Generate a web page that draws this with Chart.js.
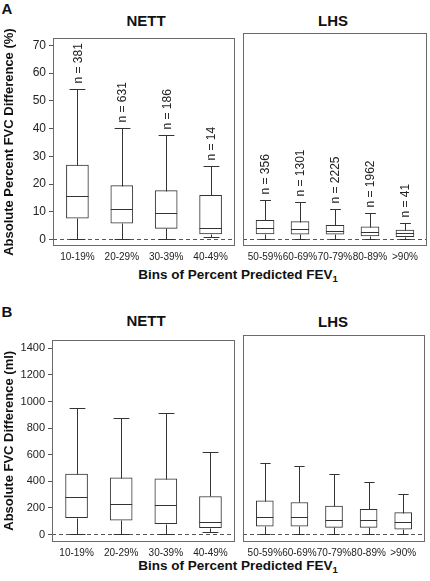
<!DOCTYPE html>
<html>
<head>
<meta charset="utf-8">
<script src="https://cdn.jsdelivr.net/npm/chart.js@4/dist/chart.umd.min.js"></script>
<style>
  html, body { margin:0; padding:0; background:#fff; }
  body { width:430px; height:581px; position:relative; overflow:hidden;
         font-family:"Liberation Sans", Arial, sans-serif; color:#111; }
  canvas { position:absolute; }
  .lbl { position:absolute; transform:translate(-50%,-50%); white-space:nowrap;
         font-weight:bold; line-height:1; }
  .panel { font-size:15px; }
  .ttl { font-size:15px; }
  .xt { font-size:13.5px; }
  .xt sub { font-size:9.5px; vertical-align:-3px; line-height:0; }
</style>
</head>
<body>
<div class="lbl panel" style="left:7px;top:8px;">A</div>
<div class="lbl panel" style="left:7px;top:311px;">B</div>
<div class="lbl ttl" style="left:146px;top:20px;">NETT</div>
<div class="lbl ttl" style="left:333px;top:20px;">LHS</div>
<div class="lbl ttl" style="left:146px;top:320px;">NETT</div>
<div class="lbl ttl" style="left:333px;top:321px;">LHS</div>
<div class="lbl xt" style="left:238px;top:275px;">Bins of Percent Predicted FEV<sub>1</sub></div>
<div class="lbl xt" style="left:238px;top:566px;">Bins of Percent Predicted FEV<sub>1</sub></div>

<canvas id="aL" width="240" height="240" style="left:0;top:28px;"></canvas>
<canvas id="aR" width="190" height="240" style="left:240px;top:28px;"></canvas>
<canvas id="bL" width="240" height="234" style="left:0;top:330px;"></canvas>
<canvas id="bR" width="190" height="234" style="left:240px;top:330px;"></canvas>

<script>
// ---------- categories ----------
const nettCats = ['10-19%', '20-29%', '30-39%', '40-49%'];
const lhsCats  = ['50-59%', '60-69%', '70-79%', '80-89%', '>90%'];

// ---------- sample sizes ----------
const nettN = [381, 631, 186, 14];
const lhsN  = [356, 1301, 2225, 1962, 41];

// ---------- Panel A: absolute percent FVC difference (%) ----------
const nettPctMin = [0, 0, 0, 0.8];
const nettPctQ1  = [7.7, 5.9, 4.0, 2.0];
const nettPctMed = [15.5, 11.0, 9.5, 4.0];
const nettPctQ3  = [26.8, 19.4, 17.6, 15.9];
const nettPctMax = [54.2, 40.3, 37.6, 26.5];

const lhsPctMin = [0, 0, 0, 0, 0];
const lhsPctQ1  = [1.9, 1.8, 1.8, 1.2, 0.9];
const lhsPctMed = [4.0, 3.6, 2.9, 2.5, 2.1];
const lhsPctQ3  = [6.7, 6.2, 4.9, 4.4, 3.2];
const lhsPctMax = [14.0, 13.0, 10.5, 9.1, 5.6];

// ---------- Panel B: absolute FVC difference (ml) ----------
const nettMlMin = [0, 0, 0, 17];
const nettMlQ1  = [127, 107, 81, 51];
const nettMlMed = [281, 227, 220, 95];
const nettMlQ3  = [454, 427, 418, 286];
const nettMlMax = [950, 879, 916, 620];

const lhsMlMin = [0, 0, 0, 0, 0];
const lhsMlQ1  = [59, 59, 51, 51, 37];
const lhsMlMed = [127, 127, 105, 105, 90];
const lhsMlQ3  = [247, 234, 208, 183, 159];
const lhsMlMax = [525, 500, 440, 386, 298];

// ---------- tick labels ----------
const yTicksPct = [0, 10, 20, 30, 40, 50, 60, 70];
const yTicksMl  = [0, 200, 400, 600, 800, 1000, 1200, 1400];

const FONT = '"Liberation Sans", Arial, sans-serif';
const INK = '#333';

const boxPlugin = {
  id: 'boxWhisker',
  beforeDatasetsDraw(chart) {
    const {ctx, chartArea: a, scales: {y}} = chart;
    const y0 = Math.round(y.getPixelForValue(0)) + 0.5;
    ctx.save();
    ctx.strokeStyle = '#555';
    ctx.lineWidth = 1;
    ctx.setLineDash([4, 3]);
    ctx.beginPath();
    ctx.moveTo(a.left, y0);
    ctx.lineTo(a.right, y0);
    ctx.stroke();
    ctx.restore();
  },
  afterDatasetsDraw(chart) {
    const {ctx, scales: {y}} = chart;
    const o = chart.options.plugins.boxWhisker;
    const meta = chart.getDatasetMeta(0);
    const px = v => Math.round(y.getPixelForValue(v)) + 0.5;
    ctx.save();
    ctx.strokeStyle = INK;
    ctx.lineWidth = 1;
    meta.data.forEach((el, i) => {
      const cx = Math.round(el.x) + 0.5;
      const hw = el.width / 2;
      const cw = el.width * o.capFrac / 2;
      const yMin = px(o.min[i]), yMax = px(o.max[i]);
      const yQ1 = px(o.q1[i]), yQ3 = px(o.q3[i]), yMed = px(o.med[i]);
      ctx.beginPath();
      ctx.moveTo(cx, yQ3); ctx.lineTo(cx, yMax);
      ctx.moveTo(cx, yQ1); ctx.lineTo(cx, yMin);
      ctx.moveTo(cx - cw, yMax); ctx.lineTo(cx + cw, yMax);
      ctx.moveTo(cx - cw, yMin); ctx.lineTo(cx + cw, yMin);
      ctx.moveTo(el.x - hw, yMed); ctx.lineTo(el.x + hw, yMed);
      ctx.stroke();
      if (o.n) {
        ctx.save();
        ctx.fillStyle = '#222';
        ctx.font = '12px ' + FONT;
        ctx.textAlign = 'left';
        ctx.textBaseline = 'middle';
        ctx.translate(el.x + 1, yMax - 6);
        ctx.rotate(-Math.PI / 2);
        ctx.fillText('n = ' + o.n[i], 0, 0);
        ctx.restore();
      }
    });
    ctx.restore();
  },
  afterDraw(chart) {
    const {ctx, chartArea: a} = chart;
    ctx.save();
    ctx.strokeStyle = '#6a6a6a';
    ctx.lineWidth = 1;
    ctx.strokeRect(Math.round(a.left) + 0.5, Math.round(a.top) + 0.5,
                   Math.round(a.right - a.left) - 1, Math.round(a.bottom - a.top) - 1);
    ctx.restore();
  }
};

function makeChart(id, cfg) {
  const cats = cfg.cats;
  return new Chart(document.getElementById(id), {
    type: 'bar',
    data: {
      datasets: [{
        data: cats.map((c, i) => ({x: i, y: [cfg.q1[i], cfg.q3[i]]})),
        backgroundColor: '#fff',
        borderColor: INK,
        borderWidth: 1,
        borderSkipped: false,
        barThickness: cfg.barW
      }]
    },
    options: {
      responsive: false,
      maintainAspectRatio: false,
      animation: false,
      events: [],
      layout: { padding: cfg.pad },
      plugins: {
        legend: { display: false },
        tooltip: { enabled: false },
        boxWhisker: {
          min: cfg.min, q1: cfg.q1, med: cfg.med, q3: cfg.q3, max: cfg.max,
          n: cfg.n, capFrac: cfg.capFrac
        }
      },
      scales: {
        x: {
          type: 'linear',
          offset: false,
          min: cfg.xmin, max: cfg.xmax,
          afterBuildTicks: s => { s.ticks = cats.map((c, i) => ({value: i})); },
          afterFit: s => { s.height = 22; },
          grid: { display: false, drawTicks: false, offset: false },
          border: { display: false },
          ticks: {
            autoSkip: false, maxRotation: 0, padding: 5,
            color: '#222', font: { family: FONT, size: 10 },
            callback: v => cats[v]
          }
        },
        y: {
          display: cfg.showY,
          min: cfg.ymin, max: cfg.ymax,
          afterBuildTicks: s => { s.ticks = cfg.yTicks.map(v => ({value: v})); },
          afterFit: s => { s.width = cfg.yW; },
          grid: { drawOnChartArea: false, drawTicks: true, tickLength: 4, color: '#555' },
          border: { display: false },
          ticks: { padding: 3, color: '#222', font: { family: FONT, size: cfg.yFont },
                   callback: v => String(v) },
          title: {
            display: cfg.showY, text: cfg.yTitle, color: '#111',
            padding: { top: 2, bottom: 0 },
            font: { family: FONT, size: 13, weight: 'bold' }
          }
        }
      }
    },
    plugins: [boxPlugin]
  });
}

// Panel A
makeChart('aL', {
  cats: nettCats, n: nettN, min: nettPctMin, q1: nettPctQ1, med: nettPctMed, q3: nettPctQ3, max: nettPctMax,
  barW: 22, capFrac: 0.72, xmin: -0.55, xmax: 3.55,
  ymin: -2.36, ymax: 72.6, yTicks: yTicksPct, yFont: 12, showY: true, yW: 53,
  yTitle: 'Absolute Percent FVC Difference (%)',
  pad: { top: 5, right: 5, bottom: 0, left: 0 }
});
makeChart('aR', {
  cats: lhsCats, n: lhsN, min: lhsPctMin, q1: lhsPctQ1, med: lhsPctMed, q3: lhsPctQ3, max: lhsPctMax,
  barW: 18, capFrac: 0.6, xmin: -0.63, xmax: 4.63,
  ymin: -2.36, ymax: 72.6, yTicks: yTicksPct, yFont: 12, showY: false, yW: 0,
  yTitle: '',
  pad: { top: 5, right: 3, bottom: 0, left: 3 }
});

// Panel B
makeChart('bL', {
  cats: nettCats, n: null, min: nettMlMin, q1: nettMlQ1, med: nettMlMed, q3: nettMlQ3, max: nettMlMax,
  barW: 22, capFrac: 0.72, xmin: -0.55, xmax: 3.55,
  ymin: -56.6, ymax: 1466, yTicks: yTicksMl, yFont: 11, showY: true, yW: 52,
  yTitle: 'Absolute FVC Difference (ml)',
  pad: { top: 5, right: 5, bottom: 0, left: 0 }
});
makeChart('bR', {
  cats: lhsCats, n: null, min: lhsMlMin, q1: lhsMlQ1, med: lhsMlMed, q3: lhsMlQ3, max: lhsMlMax,
  barW: 17, capFrac: 0.6, xmin: -0.63, xmax: 4.63,
  ymin: -56.6, ymax: 1466, yTicks: yTicksMl, yFont: 11, showY: false, yW: 0,
  yTitle: '',
  pad: { top: 5, right: 5, bottom: 0, left: 3 }
});
</script>
</body>
</html>
